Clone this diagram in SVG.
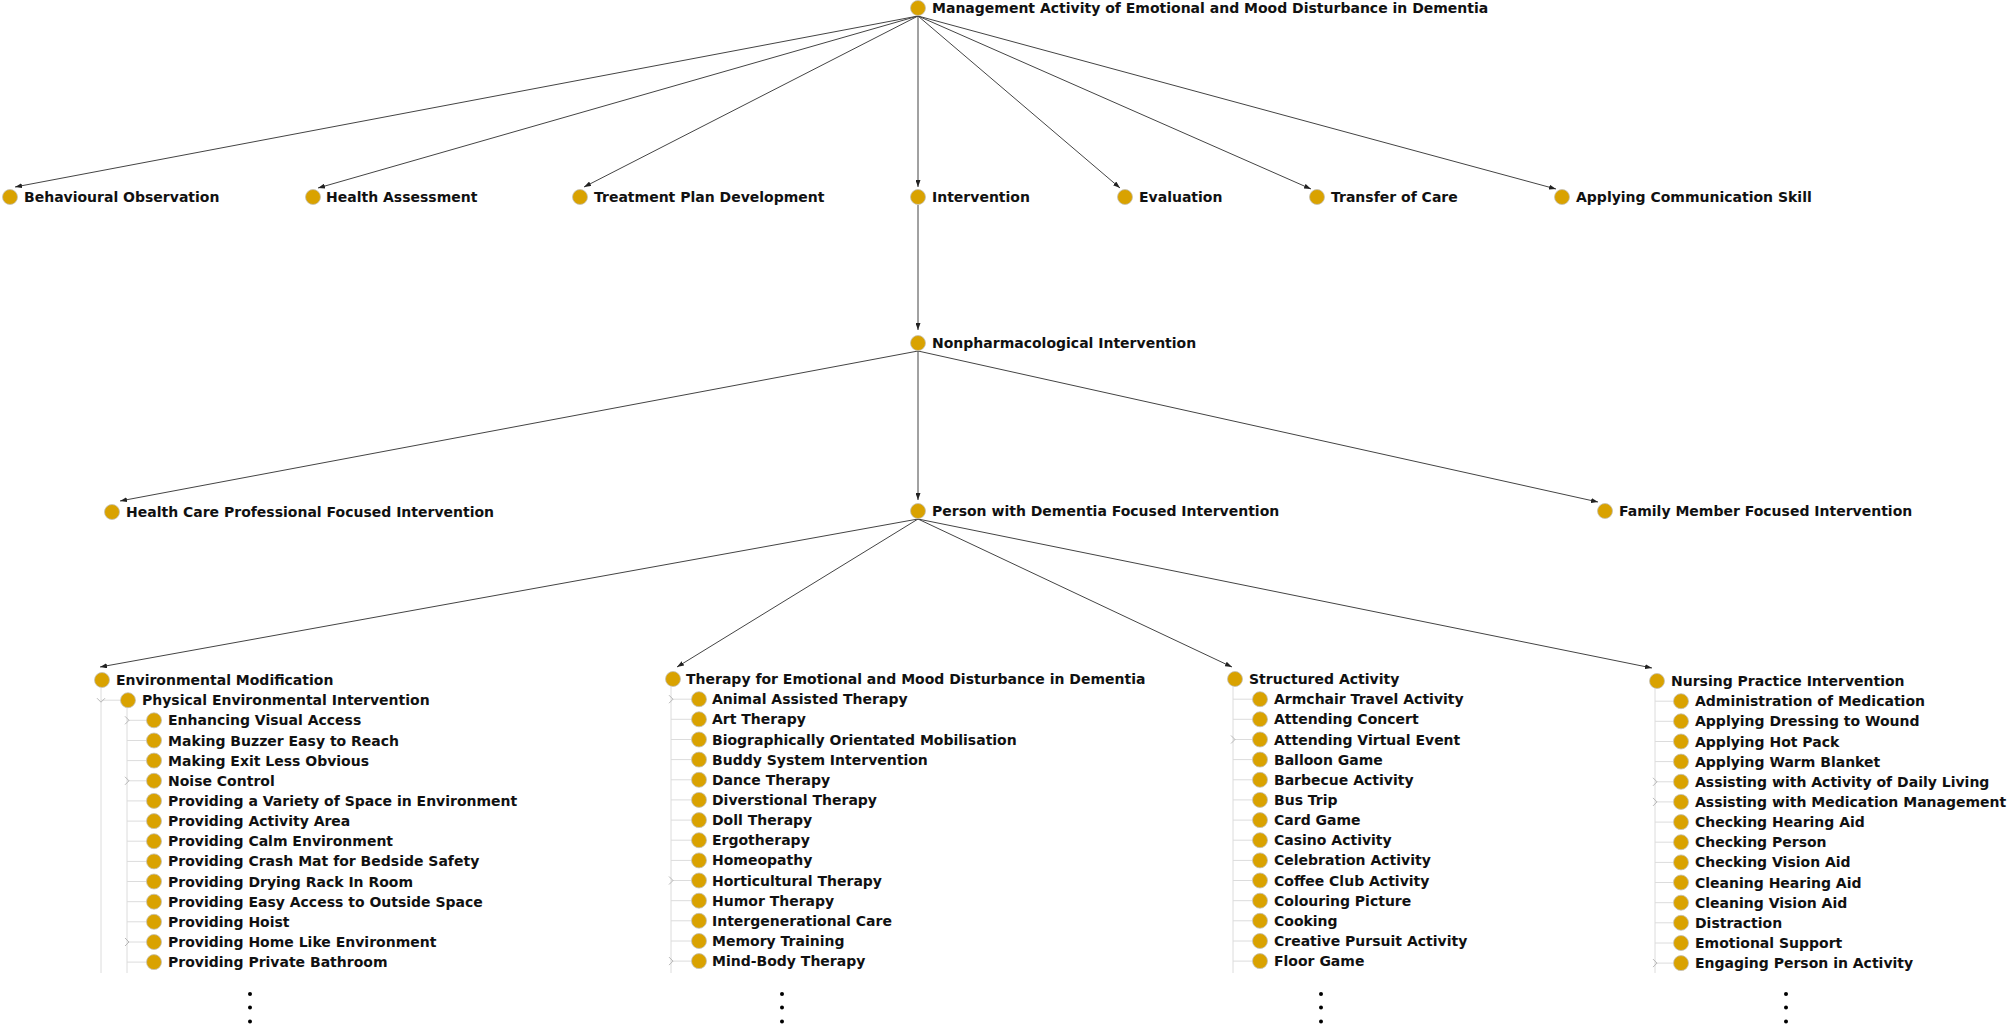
<svg xmlns="http://www.w3.org/2000/svg" width="2007" height="1029" viewBox="0 0 2007 1029">
<style>
.n{fill:#D9A200;stroke:#c4c0b4;stroke-width:0.8}
.t{font-family:"DejaVu Sans","Liberation Sans",sans-serif;font-weight:bold;font-size:14px;fill:#111}
.e{stroke:#444;stroke-width:1;fill:none}
.tr{stroke:#dcdcdc;stroke-width:1;fill:none}
.ch{stroke:#b8b8b8;stroke-width:1;fill:none}
.d{fill:#000}
</style>
<defs>
<marker id="arr" viewBox="0 0 7 5" refX="7" refY="2.5" markerWidth="7" markerHeight="5" markerUnits="userSpaceOnUse" orient="auto">
<path d="M0,0 L7,2.5 L0,5 z" fill="#222"/>
</marker>
</defs>
<rect width="2007" height="1029" fill="#fff"/>

<g id="connectors">
<line class="e" x1="918" y1="16" x2="15" y2="187" marker-end="url(#arr)"/>
<line class="e" x1="918" y1="16" x2="318" y2="188" marker-end="url(#arr)"/>
<line class="e" x1="918" y1="16" x2="584" y2="187" marker-end="url(#arr)"/>
<line class="e" x1="918" y1="16" x2="918" y2="187" marker-end="url(#arr)"/>
<line class="e" x1="918" y1="16" x2="1120" y2="188" marker-end="url(#arr)"/>
<line class="e" x1="918" y1="16" x2="1311" y2="189" marker-end="url(#arr)"/>
<line class="e" x1="918" y1="16" x2="1556" y2="189" marker-end="url(#arr)"/>
<line class="e" x1="918" y1="205" x2="918" y2="330" marker-end="url(#arr)"/>
<line class="e" x1="918" y1="351" x2="120" y2="501" marker-end="url(#arr)"/>
<line class="e" x1="918" y1="351" x2="918" y2="500" marker-end="url(#arr)"/>
<line class="e" x1="918" y1="351" x2="1598" y2="502" marker-end="url(#arr)"/>
<line class="e" x1="918" y1="519" x2="100" y2="667" marker-end="url(#arr)"/>
<line class="e" x1="918" y1="519" x2="677" y2="667" marker-end="url(#arr)"/>
<line class="e" x1="918" y1="519" x2="1232" y2="667" marker-end="url(#arr)"/>
<line class="e" x1="918" y1="519" x2="1652" y2="668" marker-end="url(#arr)"/>
</g>

<g id="tree-lines">
<!-- Environmental Modification -->
<line class="tr" x1="101" y1="688" x2="101" y2="973"/>
<line class="tr" x1="101" y1="700.2" x2="120" y2="700.2"/>
<path class="ch" d="M97,698.2 L101,702.2 L105,698.2"/>
<line class="tr" x1="127" y1="708" x2="127" y2="973"/>
<line class="tr" x1="127" y1="720.3" x2="146" y2="720.3"/>
<line class="tr" x1="127" y1="740.5" x2="146" y2="740.5"/>
<line class="tr" x1="127" y1="760.6" x2="146" y2="760.6"/>
<line class="tr" x1="127" y1="780.8" x2="146" y2="780.8"/>
<line class="tr" x1="127" y1="800.9" x2="146" y2="800.9"/>
<line class="tr" x1="127" y1="821.1" x2="146" y2="821.1"/>
<line class="tr" x1="127" y1="841.2" x2="146" y2="841.2"/>
<line class="tr" x1="127" y1="861.4" x2="146" y2="861.4"/>
<line class="tr" x1="127" y1="881.5" x2="146" y2="881.5"/>
<line class="tr" x1="127" y1="901.7" x2="146" y2="901.7"/>
<line class="tr" x1="127" y1="921.8" x2="146" y2="921.8"/>
<line class="tr" x1="127" y1="942" x2="146" y2="942"/>
<line class="tr" x1="127" y1="962.1" x2="146" y2="962.1"/>
<path class="ch" d="M125,716.3 L129,720.3 L125,724.3"/>
<path class="ch" d="M125,776.8 L129,780.8 L125,784.8"/>
<path class="ch" d="M125,938 L129,942 L125,946"/>
<!-- Therapy -->
<line class="tr" x1="671" y1="687" x2="671" y2="973"/>
<line class="tr" x1="671" y1="699.2" x2="691" y2="699.2"/>
<line class="tr" x1="671" y1="719.3" x2="691" y2="719.3"/>
<line class="tr" x1="671" y1="739.5" x2="691" y2="739.5"/>
<line class="tr" x1="671" y1="759.6" x2="691" y2="759.6"/>
<line class="tr" x1="671" y1="779.8" x2="691" y2="779.8"/>
<line class="tr" x1="671" y1="799.9" x2="691" y2="799.9"/>
<line class="tr" x1="671" y1="820.1" x2="691" y2="820.1"/>
<line class="tr" x1="671" y1="840.2" x2="691" y2="840.2"/>
<line class="tr" x1="671" y1="860.4" x2="691" y2="860.4"/>
<line class="tr" x1="671" y1="880.5" x2="691" y2="880.5"/>
<line class="tr" x1="671" y1="900.7" x2="691" y2="900.7"/>
<line class="tr" x1="671" y1="920.8" x2="691" y2="920.8"/>
<line class="tr" x1="671" y1="941" x2="691" y2="941"/>
<line class="tr" x1="671" y1="961.1" x2="691" y2="961.1"/>
<path class="ch" d="M669,695.2 L673,699.2 L669,703.2"/>
<path class="ch" d="M669,876.5 L673,880.5 L669,884.5"/>
<path class="ch" d="M669,957.1 L673,961.1 L669,965.1"/>
<!-- Structured Activity -->
<line class="tr" x1="1233" y1="687" x2="1233" y2="973"/>
<line class="tr" x1="1233" y1="699.2" x2="1252" y2="699.2"/>
<line class="tr" x1="1233" y1="719.3" x2="1252" y2="719.3"/>
<line class="tr" x1="1233" y1="739.5" x2="1252" y2="739.5"/>
<line class="tr" x1="1233" y1="759.6" x2="1252" y2="759.6"/>
<line class="tr" x1="1233" y1="779.8" x2="1252" y2="779.8"/>
<line class="tr" x1="1233" y1="799.9" x2="1252" y2="799.9"/>
<line class="tr" x1="1233" y1="820.1" x2="1252" y2="820.1"/>
<line class="tr" x1="1233" y1="840.2" x2="1252" y2="840.2"/>
<line class="tr" x1="1233" y1="860.4" x2="1252" y2="860.4"/>
<line class="tr" x1="1233" y1="880.5" x2="1252" y2="880.5"/>
<line class="tr" x1="1233" y1="900.7" x2="1252" y2="900.7"/>
<line class="tr" x1="1233" y1="920.8" x2="1252" y2="920.8"/>
<line class="tr" x1="1233" y1="941" x2="1252" y2="941"/>
<line class="tr" x1="1233" y1="961.1" x2="1252" y2="961.1"/>
<path class="ch" d="M1231,735.5 L1235,739.5 L1231,743.5"/>
<!-- Nursing -->
<line class="tr" x1="1655" y1="689" x2="1655" y2="973"/>
<line class="tr" x1="1655" y1="701.2" x2="1673" y2="701.2"/>
<line class="tr" x1="1655" y1="721.3" x2="1673" y2="721.3"/>
<line class="tr" x1="1655" y1="741.5" x2="1673" y2="741.5"/>
<line class="tr" x1="1655" y1="761.6" x2="1673" y2="761.6"/>
<line class="tr" x1="1655" y1="781.8" x2="1673" y2="781.8"/>
<line class="tr" x1="1655" y1="801.9" x2="1673" y2="801.9"/>
<line class="tr" x1="1655" y1="822.1" x2="1673" y2="822.1"/>
<line class="tr" x1="1655" y1="842.2" x2="1673" y2="842.2"/>
<line class="tr" x1="1655" y1="862.4" x2="1673" y2="862.4"/>
<line class="tr" x1="1655" y1="882.5" x2="1673" y2="882.5"/>
<line class="tr" x1="1655" y1="902.7" x2="1673" y2="902.7"/>
<line class="tr" x1="1655" y1="922.8" x2="1673" y2="922.8"/>
<line class="tr" x1="1655" y1="943" x2="1673" y2="943"/>
<line class="tr" x1="1655" y1="963.1" x2="1673" y2="963.1"/>
<path class="ch" d="M1653,777.8 L1657,781.8 L1653,785.8"/>
<path class="ch" d="M1653,797.9 L1657,801.9 L1653,805.9"/>
<path class="ch" d="M1653,959.1 L1657,963.1 L1653,967.1"/>
</g>

<g id="root"><circle class="n" cx="918" cy="8" r="7.5"/><text class="t" x="932" y="13">Management Activity of Emotional and Mood Disturbance in Dementia</text></g>

<g id="behavioural-observation"><circle class="n" cx="10" cy="197" r="7.5"/><text class="t" x="24" y="202">Behavioural Observation</text></g>
<g id="health-assessment"><circle class="n" cx="313" cy="197" r="7.5"/><text class="t" x="326" y="202">Health Assessment</text></g>
<g id="treatment-plan-development"><circle class="n" cx="580" cy="197" r="7.5"/><text class="t" x="594" y="202">Treatment Plan Development</text></g>
<g id="intervention"><circle class="n" cx="918" cy="197" r="7.5"/><text class="t" x="932" y="202">Intervention</text></g>
<g id="evaluation"><circle class="n" cx="1125" cy="197" r="7.5"/><text class="t" x="1139" y="202">Evaluation</text></g>
<g id="transfer-of-care"><circle class="n" cx="1317" cy="197" r="7.5"/><text class="t" x="1331" y="202">Transfer of Care</text></g>
<g id="applying-communication-skill"><circle class="n" cx="1562" cy="197" r="7.5"/><text class="t" x="1576" y="202">Applying Communication Skill</text></g>

<g id="nonpharmacological-intervention"><circle class="n" cx="918" cy="343" r="7.5"/><text class="t" x="932" y="348">Nonpharmacological Intervention</text></g>

<g id="health-care-professional-focused-intervention"><circle class="n" cx="112" cy="512" r="7.5"/><text class="t" x="126" y="517">Health Care Professional Focused Intervention</text></g>
<g id="person-with-dementia-focused-intervention"><circle class="n" cx="918" cy="511" r="7.5"/><text class="t" x="932" y="516">Person with Dementia Focused Intervention</text></g>
<g id="family-member-focused-intervention"><circle class="n" cx="1605" cy="511" r="7.5"/><text class="t" x="1619" y="516">Family Member Focused Intervention</text></g>

<g id="environmental-modification">
<circle class="n" cx="102" cy="680" r="7.5"/><text class="t" x="116" y="685">Environmental Modification</text>
<g id="physical-environmental-intervention"><circle class="n" cx="128" cy="700.2" r="7.5"/><text class="t" x="142" y="705.2">Physical Environmental Intervention</text></g>
<g id="env-items">
<circle class="n" cx="154" cy="720.3" r="7.5"/><text class="t" x="168" y="725.3">Enhancing Visual Access</text>
<circle class="n" cx="154" cy="740.5" r="7.5"/><text class="t" x="168" y="745.5">Making Buzzer Easy to Reach</text>
<circle class="n" cx="154" cy="760.6" r="7.5"/><text class="t" x="168" y="765.6">Making Exit Less Obvious</text>
<circle class="n" cx="154" cy="780.8" r="7.5"/><text class="t" x="168" y="785.8">Noise Control</text>
<circle class="n" cx="154" cy="800.9" r="7.5"/><text class="t" x="168" y="805.9">Providing a Variety of Space in Environment</text>
<circle class="n" cx="154" cy="821.1" r="7.5"/><text class="t" x="168" y="826.1">Providing Activity Area</text>
<circle class="n" cx="154" cy="841.2" r="7.5"/><text class="t" x="168" y="846.2">Providing Calm Environment</text>
<circle class="n" cx="154" cy="861.4" r="7.5"/><text class="t" x="168" y="866.4">Providing Crash Mat for Bedside Safety</text>
<circle class="n" cx="154" cy="881.5" r="7.5"/><text class="t" x="168" y="886.5">Providing Drying Rack In Room</text>
<circle class="n" cx="154" cy="901.7" r="7.5"/><text class="t" x="168" y="906.7">Providing Easy Access to Outside Space</text>
<circle class="n" cx="154" cy="921.8" r="7.5"/><text class="t" x="168" y="926.8">Providing Hoist</text>
<circle class="n" cx="154" cy="942" r="7.5"/><text class="t" x="168" y="947">Providing Home Like Environment</text>
<circle class="n" cx="154" cy="962.1" r="7.5"/><text class="t" x="168" y="967.1">Providing Private Bathroom</text>
</g>
<circle class="d" cx="250" cy="994" r="2"/><circle class="d" cx="250" cy="1007.5" r="2"/><circle class="d" cx="250" cy="1021.5" r="2"/>
</g>

<g id="therapy">
<circle class="n" cx="673" cy="679" r="7.5"/><text class="t" x="686" y="684">Therapy for Emotional and Mood Disturbance in Dementia</text>
<circle class="n" cx="699" cy="699.2" r="7.5"/><text class="t" x="712" y="704.2">Animal Assisted Therapy</text>
<circle class="n" cx="699" cy="719.3" r="7.5"/><text class="t" x="712" y="724.3">Art Therapy</text>
<circle class="n" cx="699" cy="739.5" r="7.5"/><text class="t" x="712" y="744.5">Biographically Orientated Mobilisation</text>
<circle class="n" cx="699" cy="759.6" r="7.5"/><text class="t" x="712" y="764.6">Buddy System Intervention</text>
<circle class="n" cx="699" cy="779.8" r="7.5"/><text class="t" x="712" y="784.8">Dance Therapy</text>
<circle class="n" cx="699" cy="799.9" r="7.5"/><text class="t" x="712" y="804.9">Diverstional Therapy</text>
<circle class="n" cx="699" cy="820.1" r="7.5"/><text class="t" x="712" y="825.1">Doll Therapy</text>
<circle class="n" cx="699" cy="840.2" r="7.5"/><text class="t" x="712" y="845.2">Ergotherapy</text>
<circle class="n" cx="699" cy="860.4" r="7.5"/><text class="t" x="712" y="865.4">Homeopathy</text>
<circle class="n" cx="699" cy="880.5" r="7.5"/><text class="t" x="712" y="885.5">Horticultural Therapy</text>
<circle class="n" cx="699" cy="900.7" r="7.5"/><text class="t" x="712" y="905.7">Humor Therapy</text>
<circle class="n" cx="699" cy="920.8" r="7.5"/><text class="t" x="712" y="925.8">Intergenerational Care</text>
<circle class="n" cx="699" cy="941" r="7.5"/><text class="t" x="712" y="946">Memory Training</text>
<circle class="n" cx="699" cy="961.1" r="7.5"/><text class="t" x="712" y="966.1">Mind-Body Therapy</text>
<circle class="d" cx="782" cy="994" r="2"/><circle class="d" cx="782" cy="1007.5" r="2"/><circle class="d" cx="782" cy="1021.5" r="2"/>
</g>

<g id="structured-activity">
<circle class="n" cx="1235" cy="679" r="7.5"/><text class="t" x="1249" y="684">Structured Activity</text>
<circle class="n" cx="1260" cy="699.2" r="7.5"/><text class="t" x="1274" y="704.2">Armchair Travel Activity</text>
<circle class="n" cx="1260" cy="719.3" r="7.5"/><text class="t" x="1274" y="724.3">Attending Concert</text>
<circle class="n" cx="1260" cy="739.5" r="7.5"/><text class="t" x="1274" y="744.5">Attending Virtual Event</text>
<circle class="n" cx="1260" cy="759.6" r="7.5"/><text class="t" x="1274" y="764.6">Balloon Game</text>
<circle class="n" cx="1260" cy="779.8" r="7.5"/><text class="t" x="1274" y="784.8">Barbecue Activity</text>
<circle class="n" cx="1260" cy="799.9" r="7.5"/><text class="t" x="1274" y="804.9">Bus Trip</text>
<circle class="n" cx="1260" cy="820.1" r="7.5"/><text class="t" x="1274" y="825.1">Card Game</text>
<circle class="n" cx="1260" cy="840.2" r="7.5"/><text class="t" x="1274" y="845.2">Casino Activity</text>
<circle class="n" cx="1260" cy="860.4" r="7.5"/><text class="t" x="1274" y="865.4">Celebration Activity</text>
<circle class="n" cx="1260" cy="880.5" r="7.5"/><text class="t" x="1274" y="885.5">Coffee Club Activity</text>
<circle class="n" cx="1260" cy="900.7" r="7.5"/><text class="t" x="1274" y="905.7">Colouring Picture</text>
<circle class="n" cx="1260" cy="920.8" r="7.5"/><text class="t" x="1274" y="925.8">Cooking</text>
<circle class="n" cx="1260" cy="941" r="7.5"/><text class="t" x="1274" y="946">Creative Pursuit Activity</text>
<circle class="n" cx="1260" cy="961.1" r="7.5"/><text class="t" x="1274" y="966.1">Floor Game</text>
<circle class="d" cx="1321" cy="994" r="2"/><circle class="d" cx="1321" cy="1007.5" r="2"/><circle class="d" cx="1321" cy="1021.5" r="2"/>
</g>

<g id="nursing-practice-intervention">
<circle class="n" cx="1657" cy="681" r="7.5"/><text class="t" x="1671" y="686">Nursing Practice Intervention</text>
<circle class="n" cx="1681" cy="701.2" r="7.5"/><text class="t" x="1695" y="706.2">Administration of Medication</text>
<circle class="n" cx="1681" cy="721.3" r="7.5"/><text class="t" x="1695" y="726.3">Applying Dressing to Wound</text>
<circle class="n" cx="1681" cy="741.5" r="7.5"/><text class="t" x="1695" y="746.5">Applying Hot Pack</text>
<circle class="n" cx="1681" cy="761.6" r="7.5"/><text class="t" x="1695" y="766.6">Applying Warm Blanket</text>
<circle class="n" cx="1681" cy="781.8" r="7.5"/><text class="t" x="1695" y="786.8">Assisting with Activity of Daily Living</text>
<circle class="n" cx="1681" cy="801.9" r="7.5"/><text class="t" x="1695" y="806.9">Assisting with Medication Management</text>
<circle class="n" cx="1681" cy="822.1" r="7.5"/><text class="t" x="1695" y="827.1">Checking Hearing Aid</text>
<circle class="n" cx="1681" cy="842.2" r="7.5"/><text class="t" x="1695" y="847.2">Checking Person</text>
<circle class="n" cx="1681" cy="862.4" r="7.5"/><text class="t" x="1695" y="867.4">Checking Vision Aid</text>
<circle class="n" cx="1681" cy="882.5" r="7.5"/><text class="t" x="1695" y="887.5">Cleaning Hearing Aid</text>
<circle class="n" cx="1681" cy="902.7" r="7.5"/><text class="t" x="1695" y="907.7">Cleaning Vision Aid</text>
<circle class="n" cx="1681" cy="922.8" r="7.5"/><text class="t" x="1695" y="927.8">Distraction</text>
<circle class="n" cx="1681" cy="943" r="7.5"/><text class="t" x="1695" y="948">Emotional Support</text>
<circle class="n" cx="1681" cy="963.1" r="7.5"/><text class="t" x="1695" y="968.1">Engaging Person in Activity</text>
<circle class="d" cx="1786" cy="994" r="2"/><circle class="d" cx="1786" cy="1007.5" r="2"/><circle class="d" cx="1786" cy="1021.5" r="2"/>
</g>
</svg>
